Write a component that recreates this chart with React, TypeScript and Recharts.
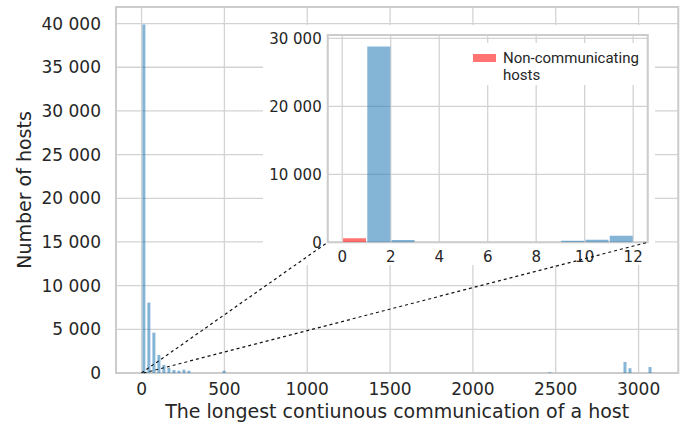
import React from "react";
import {
  ComposedChart,
  Bar,
  XAxis,
  YAxis,
  CartesianGrid,
  ReferenceArea,
  ReferenceLine,
  Legend,
  Label,
} from "recharts";

// main histogram: hosts per bin of the longest continuous communication
const BIN_WIDTH = 30.25;
const mainCounts = [
  39900, 8060, 4620, 2060, 920, 610, 340, 260, 380, 260,
  0, 0, 0, 0, 0, 0, 260, 0, 0, 0,
  0, 0, 0, 0, 0, 0, 0, 0, 0, 0,
  0, 0, 0, 0, 0, 0, 0, 0, 0, 0,
  0, 0, 0, 0, 0, 0, 0, 0, 0, 0,
  0, 0, 0, 0, 0, 0, 0, 0, 0, 0,
  0, 0, 0, 0, 0, 0, 0, 0, 0, 0,
  0, 0, 0, 0, 0, 0, 0, 0, 0, 0,
  0, 80, 0, 0, 0, 0, 0, 0, 0, 0,
  0, 0, 0, 0, 0, 0, 1260, 540, 0, 0,
  0, 690,
];
const mainXTicks = [0, 500, 1000, 1500, 2000, 2500, 3000];
const mainYTicks = [0, 5000, 10000, 15000, 20000, 25000, 30000, 35000, 40000];
const MAIN_X_DOMAIN: [number, number] = [-154.3, 3239.8];
const MAIN_Y_MAX = 41900;

// zoomed inset: bins of width 1 from 0 to 12
const insetBins = [0, 1, 2, 3, 4, 5, 6, 7, 8, 9, 10, 11];
const insetNonComm = [590, 0, 0, 0, 0, 0, 0, 0, 0, 0, 0, 0];
const insetComm = [0, 28800, 340, 0, 0, 0, 0, 0, 0, 240, 380, 980];
const insetXTicks = [0, 2, 4, 6, 8, 10, 12];
const insetYTicks = [0, 10000, 20000, 30000];
const INSET_X_DOMAIN: [number, number] = [-0.6, 12.6];
const INSET_Y_MAX = 30490;

// dashed connectors (main data coords): zoom box corner -> inset corner
const connectorFromX = [-0.6, 12.6];
const connectorToX = [1123, 3055];
const CONNECTOR_TO_Y = 14960;

const mainData = mainCounts.map((count, i) => ({ x: (i + 0.5) * BIN_WIDTH, count }));
const insetData = insetBins.map((b, i) => ({
  x: b + 0.5,
  nonComm: insetNonComm[i],
  comm: insetComm[i],
}));

const TEXT = "#262626";
const GRID = "#d3d3d3";
const FRAME = "#cccccc";
const BLUE = "#1f77b4";
const RED = "#ff0000";
const DEJAVU = "DejaVu Sans, sans-serif";

const spaced = (v: number) => String(v).replace(/\B(?=(\d{3})+(?!\d))/g, " ");

const InsetLegend = (props: any) => {
  const items = (props.payload || []).filter((p: any) => p.dataKey === "nonComm");
  return (
    <div
      style={{
        background: "white",
        width: 180,
        height: 42,
        boxSizing: "border-box",
        padding: "7px 0 0 8px",
        fontFamily: "Roboto, sans-serif",
        fontSize: 15,
        lineHeight: "17.3px",
        color: TEXT,
      }}
    >
      {items.map((p: any) => (
        <div key={p.value} style={{ display: "flex", alignItems: "flex-start" }}>
          <span
            style={{
              display: "inline-block",
              width: 23,
              height: 8,
              marginTop: 4,
              background: RED,
              opacity: 0.55,
            }}
          />
          <span style={{ marginLeft: 7, whiteSpace: "pre-line" }}>{p.value}</span>
        </div>
      ))}
    </div>
  );
};

export default function App() {
  return (
    <div style={{ position: "absolute", left: 0, top: 0, width: 689, height: 435, background: "white" }}>
      <div style={{ position: "absolute", left: 0, top: 0 }}>
        <ComposedChart
          width={689}
          height={435}
          data={mainData}
          margin={{ top: 7, right: 10.7, bottom: 0, left: 0 }}
          barCategoryGap={0.8}
        >
          <CartesianGrid stroke={GRID} strokeWidth={1.3} />
          <XAxis
            type="number"
            dataKey="x"
            domain={MAIN_X_DOMAIN}
            ticks={mainXTicks}
            allowDataOverflow
            interval={0}
            height={62}
            tickLine={false}
            axisLine={false}
            tickSize={0}
            tickMargin={10}
            tick={{ fontSize: 17, fill: TEXT, fontFamily: DEJAVU }}
          >
            <Label
              value="The longest contiunous communication of a host"
              position="insideBottom"
              offset={17}
              style={{ fontSize: 19, fill: TEXT, fontFamily: DEJAVU }}
            />
          </XAxis>
          <YAxis
            type="number"
            domain={[0, MAIN_Y_MAX]}
            ticks={mainYTicks}
            allowDataOverflow
            interval={0}
            width={116}
            tickLine={false}
            axisLine={false}
            tickSize={0}
            tickMargin={15}
            tickFormatter={spaced}
            tick={{ fontSize: 17, fill: TEXT, fontFamily: DEJAVU }}
          >
            <Label
              value="Number of hosts"
              angle={-90}
              position="insideLeft"
              offset={24}
              style={{ textAnchor: "middle", fontSize: 19, fill: TEXT, fontFamily: DEJAVU }}
            />
          </YAxis>
          <Bar dataKey="count" fill={BLUE} fillOpacity={0.55} isAnimationActive={false} />
          <ReferenceArea
            x1={MAIN_X_DOMAIN[0]}
            x2={MAIN_X_DOMAIN[1]}
            y1={0}
            y2={MAIN_Y_MAX}
            fill="none"
            stroke={FRAME}
            strokeWidth={2}
            ifOverflow="visible"
          />
        </ComposedChart>
      </div>

      <div style={{ position: "absolute", left: 263, top: 25, width: 392, height: 240, background: "white" }}>
        <ComposedChart
          width={392}
          height={240}
          data={insetData}
          margin={{ top: 10, right: 7.3, bottom: 0, left: 0 }}
          barCategoryGap={0.8}
        >
          <CartesianGrid stroke={GRID} strokeWidth={1.3} />
          <XAxis
            type="number"
            dataKey="x"
            domain={INSET_X_DOMAIN}
            ticks={insetXTicks}
            allowDataOverflow
            interval={0}
            height={22.7}
            tickLine={false}
            axisLine={false}
            tickSize={0}
            tickMargin={9}
            tick={{ fontSize: 15, fill: TEXT, fontFamily: DEJAVU }}
          />
          <YAxis
            type="number"
            domain={[0, INSET_Y_MAX]}
            ticks={insetYTicks}
            allowDataOverflow
            interval={0}
            width={64.7}
            tickLine={false}
            axisLine={false}
            tickSize={0}
            tickMargin={6}
            tickFormatter={spaced}
            tick={{ fontSize: 15, fill: TEXT, fontFamily: DEJAVU }}
          />
          <Bar
            dataKey="nonComm"
            name={"Non-communicating\nhosts"}
            stackId="h"
            fill={RED}
            fillOpacity={0.55}
            isAnimationActive={false}
          />
          <Bar
            dataKey="comm"
            name="Communicating hosts"
            stackId="h"
            fill={BLUE}
            fillOpacity={0.55}
            isAnimationActive={false}
          />
          <ReferenceArea
            x1={INSET_X_DOMAIN[0]}
            x2={INSET_X_DOMAIN[1]}
            y1={0}
            y2={INSET_Y_MAX}
            fill="none"
            stroke={FRAME}
            strokeWidth={2}
            ifOverflow="visible"
          />
          <Legend
            layout="horizontal"
            verticalAlign="middle"
            align="center"
            wrapperStyle={{ left: 202, top: 18, width: 180 }}
            content={InsetLegend}
          />
        </ComposedChart>
      </div>

      <div style={{ position: "absolute", left: 0, top: 0, pointerEvents: "none" }}>
        <ComposedChart
          width={689}
          height={435}
          data={mainData}
          margin={{ top: 7, right: 10.7, bottom: 62, left: 116 }}
        >
          <XAxis type="number" dataKey="x" domain={MAIN_X_DOMAIN} allowDataOverflow hide />
          <YAxis type="number" domain={[0, MAIN_Y_MAX]} allowDataOverflow hide />
          {connectorFromX.map((fx, i) => (
            <ReferenceLine
              key={i}
              segment={[
                { x: fx, y: 0 },
                { x: connectorToX[i], y: CONNECTOR_TO_Y },
              ]}
              stroke="#111111"
              strokeWidth={1.2}
              strokeDasharray="3 3"
              ifOverflow="visible"
            />
          ))}
        </ComposedChart>
      </div>
    </div>
  );
}
